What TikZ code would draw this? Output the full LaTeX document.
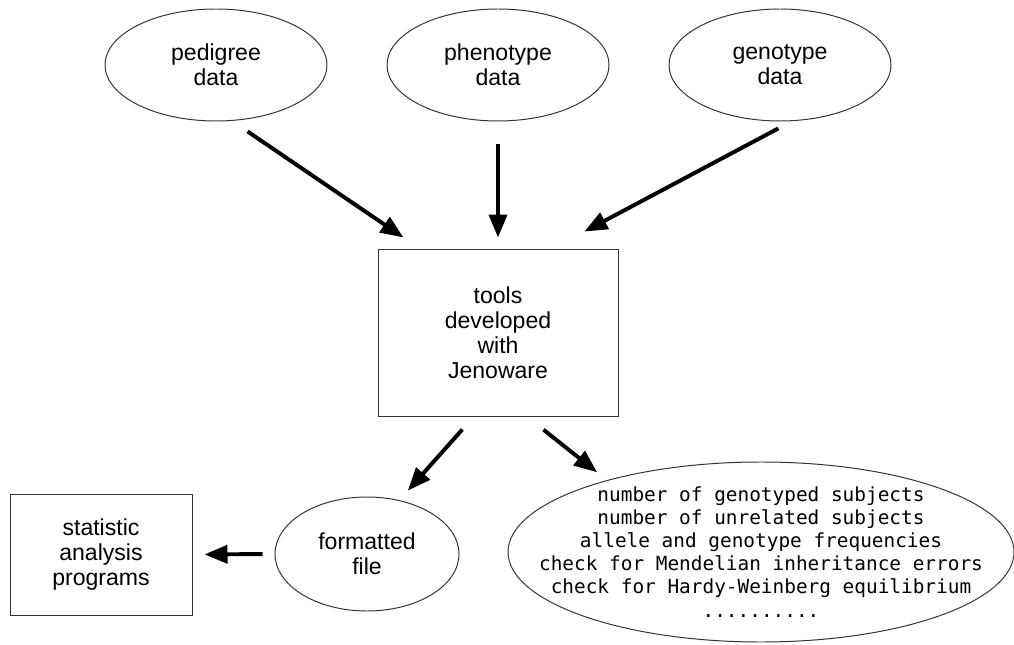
\documentclass[tikz,border=0pt]{standalone}
\usepackage{fontspec}
\setmainfont{Liberation Sans}
\newfontfamily\listfont{DejaVu Sans Mono}
\usepackage{tikz}
\usetikzlibrary{arrows.meta, shapes}

\begin{document}
\begin{tikzpicture}[
  datanode/.style={ellipse, draw=black!80, line width=0.7pt, inner sep=0pt, minimum width=5.55cm, minimum height=2.8cm, align=center, font=\fontsize{16.4}{17.8}\selectfont},
  toolbox/.style={rectangle, draw=black!80, line width=0.7pt, align=center, font=\fontsize{16.4}{17.8}\selectfont},
  flow/.style={line width=2.8pt, -{Triangle[length=0.575cm, width=0.45cm]}}
]
\useasboundingbox (0,0) rectangle (25.35,16.1);

% input data
\node[datanode] (ped) at (5.4,14.475) {pedigree\\data};
\node[datanode] (phen) at (12.45,14.475) {phenotype\\data};
\node[datanode] (geno) at (19.5,14.475) {genotype\\data};

% tools
\node[toolbox, minimum width=6cm, minimum height=4.175cm] (tools) at (12.45,7.7875) {tools\\developed\\with\\Jenoware};

% outputs
\node[datanode, minimum width=4.6cm, minimum height=2.85cm] (fmt) at (9.175,2.25) {formatted\\file};
\node[toolbox, minimum width=4.55cm, minimum height=3.025cm] (stat) at (2.525,2.2375) {statistic\\analysis\\programs};
\node[datanode, minimum width=12.65cm, minimum height=4.5cm, inner xsep=-1.5cm, inner ysep=-0.6cm, font=\listfont\fontsize{13.8}{16.4}\selectfont] (res) at (19.025,2.3)
  {number of genotyped subjects\\number of unrelated subjects\\allele and genotype frequencies\\check for Mendelian inheritance errors\\check for Hardy-Weinberg equilibrium\\..........};

\draw[flow, shorten <=0.47cm, shorten >=0.49cm] (ped.-74) -- (tools.133);
\draw[flow, shorten <=0.575cm, shorten >=0.275cm] (phen.south) -- (tools.north);
\draw[flow, shorten <=0.385cm, shorten >=0.9cm] (geno.-78) -- (tools.57);
\draw[flow, shorten <=0.435cm, shorten >=0.32cm] (tools.-106) -- (fmt.59);
\draw[flow, shorten <=0.53cm, shorten >=0.315cm] (tools.-71) -- (res.155);
\draw[flow, shorten <=0.3cm, shorten >=0.3cm] (fmt.west) -- (stat.east);
\end{tikzpicture}
\end{document}
